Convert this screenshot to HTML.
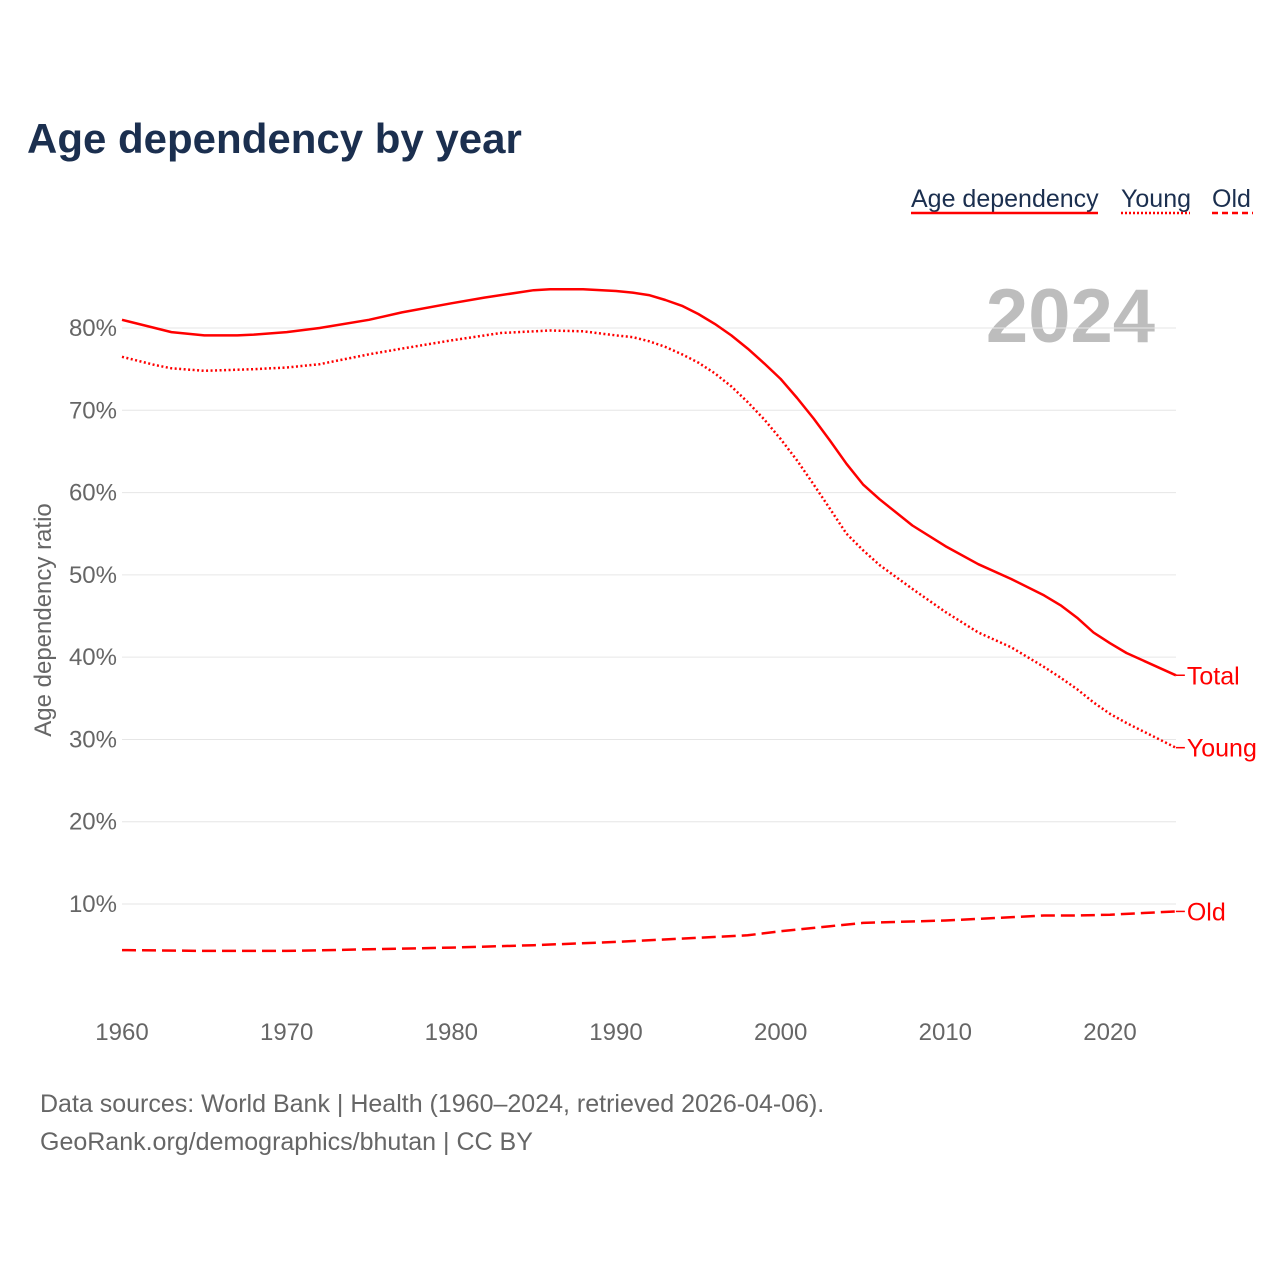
<!DOCTYPE html>
<html><head><meta charset="utf-8"><style>
body{margin:0;background:#fff;font-family:"Liberation Sans",sans-serif;}
</style></head><body>
<svg width="1280" height="1280" viewBox="0 0 1280 1280" xmlns="http://www.w3.org/2000/svg">
<text x="27" y="153" font-size="42" font-weight="bold" fill="#1b2f4f">Age dependency by year</text>
<g font-size="25" fill="#1b2f4f">
<text x="911" y="207">Age dependency</text>
<line x1="911" y1="213" x2="1098" y2="213" stroke="red" stroke-width="2.5"/>
<text x="1121" y="207">Young</text>
<line x1="1121" y1="213" x2="1190" y2="213" stroke="red" stroke-width="2.5" stroke-dasharray="2,2"/>
<text x="1212" y="207">Old</text>
<line x1="1212" y1="213" x2="1253" y2="213" stroke="red" stroke-width="2.5" stroke-dasharray="6,4"/>
</g>
<text x="1155" y="342" text-anchor="end" font-size="76" font-weight="bold" fill="#bdbdbd">2024</text>
<g id="grid"></g>
<g id="yticks" font-size="24" fill="#666" text-anchor="end"></g>
<g id="xticks" font-size="24" fill="#666" text-anchor="middle"></g>
<text transform="translate(51,620) rotate(-90)" text-anchor="middle" font-size="24" fill="#666">Age dependency ratio</text>
<g id="series"></g>
<text x="40" y="1112" font-size="25" fill="#666">Data sources: World Bank | Health (1960–2024, retrieved 2026-04-06).</text>
<text x="40" y="1150" font-size="25" fill="#666">GeoRank.org/demographics/bhutan | CC BY</text>
</svg>
<script>
const totalYears=[1960,1962,1963,1965,1967,1968,1970,1972,1975,1977,1980,1982,1985,1986,1988,1990,1991,1992,1993,1994,1995,1996,1997,1998,1999,2000,2001,2002,2003,2004,2005,2006,2008,2010,2012,2014,2016,2017,2018,2019,2020,2021,2022,2024];
const totalVals=[81,80,79.5,79.1,79.1,79.2,79.5,80,81,81.9,83,83.7,84.6,84.7,84.7,84.5,84.3,84,83.4,82.7,81.7,80.5,79.1,77.5,75.7,73.8,71.5,69,66.3,63.5,61,59.2,56,53.5,51.3,49.5,47.5,46.3,44.8,43,41.7,40.5,39.6,37.8];
const youngYears=[1960,1962,1963,1965,1968,1970,1972,1975,1977,1980,1983,1986,1988,1990,1991,1992,1993,1994,1995,1996,1997,1998,1999,2000,2001,2002,2003,2004,2005,2006,2008,2010,2012,2014,2016,2017,2018,2019,2020,2021,2022,2024];
const youngVals=[76.5,75.5,75.1,74.8,75,75.2,75.6,76.8,77.5,78.5,79.4,79.7,79.6,79.1,78.9,78.4,77.7,76.8,75.8,74.5,72.9,71,68.9,66.5,63.9,61,58,55,53,51.2,48.3,45.5,43,41.2,38.8,37.5,36.1,34.5,33.1,32,31,29];
const oldYears=[1960,1965,1970,1975,1980,1985,1990,1995,1998,2000,2003,2005,2010,2015,2016,2018,2020,2024];
const oldVals=[4.4,4.3,4.3,4.5,4.7,5,5.4,5.9,6.2,6.7,7.3,7.7,8,8.5,8.6,8.6,8.7,9.1];
const yTickVals=[10,20,30,40,50,60,70,80];
const xTickVals=[1960,1970,1980,1990,2000,2010,2020];
const NS="http://www.w3.org/2000/svg";
const x=y=>122+(y-1960)*(988/60);
const yS=v=>986.3-v*(576/70);
function mk(t,a,p){const e=document.createElementNS(NS,t);for(const k in a)e.setAttribute(k,a[k]);p.appendChild(e);return e;}
const grid=document.getElementById('grid'),yt=document.getElementById('yticks'),xt=document.getElementById('xticks'),ser=document.getElementById('series');
yTickVals.forEach(v=>{
 const l=mk('line',{x1:122,x2:1176,y1:yS(v),y2:yS(v),stroke:'#e6e6e6','stroke-width':1},grid);
 
 
 const t=mk('text',{x:117,y:yS(v)+8},yt);t.textContent=v+'%';
 
 
});
xTickVals.forEach(v=>{
 const t=mk('text',{x:x(v),y:1040},xt);t.textContent=v;
 
 
});
function line(ys,vs,dash,name,label){
 const d=ys.map((yr,i)=>(i?'L':'M')+x(yr).toFixed(1)+','+yS(vs[i]).toFixed(1)).join('');
 const p=mk('path',{d:d,fill:'none',stroke:'red','stroke-width':2.5,'stroke-dasharray':dash,'stroke-linejoin':'round'},ser);
 
 
 const ly=yS(vs[vs.length-1]),lx=x(ys[ys.length-1]);
 mk('line',{x1:lx,x2:lx+9,y1:ly,y2:ly,stroke:'red','stroke-width':1.5},ser);
 const t=mk('text',{x:lx+11,y:ly+9,fill:'red','font-size':25},ser);t.textContent=label;
 
 
}
line(totalYears,totalVals,'none','total','Total');
line(youngYears,youngVals,'2,2.5','young','Young');
line(oldYears,oldVals,'14,6','old','Old');
</script>
</body></html>
